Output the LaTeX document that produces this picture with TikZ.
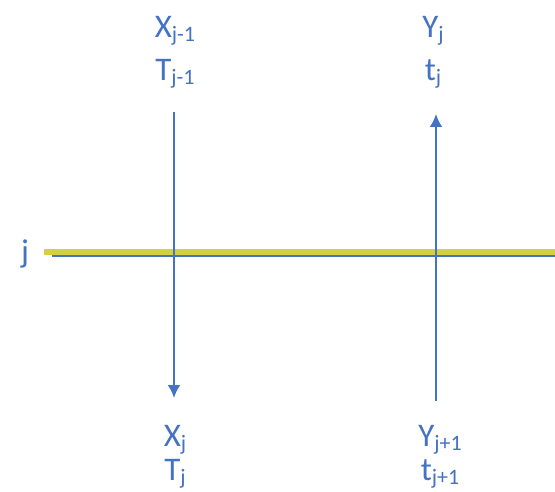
\documentclass[tikz,border=0pt]{standalone}
\usepackage{fontspec}
\usetikzlibrary{arrows.meta}
\setmainfont{Carlito}
\definecolor{oblue}{HTML}{4472C4}
\definecolor{oyellow}{HTML}{D4D040}
\newcommand{\sublbl}[2]{#1\raisebox{-4pt}{\fontsize{22}{24}\selectfont #2}}
\begin{document}
\begin{tikzpicture}[x=1pt,y=-1pt,
  lbl/.style={text=oblue,font=\fontsize{33}{35}\selectfont,inner sep=0pt,anchor=base},
  flow/.style={draw=oblue,line width=2.4pt,-{Latex[length=13pt,width=13pt]}}]
\useasboundingbox (0,0) rectangle (555,492);
% labels
\node[lbl] (xtop) at (175,38) {\sublbl{X}{j-1}};
\node[lbl] (ttop) at (175,81) {\sublbl{T}{j-1}};
\node[lbl] (ytop) at (433,38) {\sublbl{Y}{j}};
\node[lbl] (ttopr) at (433,81) {\sublbl{t}{j}};
\node[lbl] (xbot) at (175,446) {\sublbl{X}{j}};
\node[lbl] (tbot) at (175,480) {\sublbl{T}{j}};
\node[lbl] (ybot) at (440,446) {\sublbl{Y}{j+1}};
\node[lbl] (tbotr) at (440,480) {\sublbl{t}{j+1}};
\node[lbl] (jl) at (25,262) {j};
% coordinates
\coordinate (a1) at (174,112);
\coordinate (a2) at (174,398);
\coordinate (b1) at (436,401);
\coordinate (b2) at (436,114);
\coordinate (l1) at (44,252.3);
\coordinate (l2) at (555,252.3);
\coordinate (m1) at (52,256.3);
\coordinate (m2) at (555,256.3);
% lines
\draw[draw=oblue,line width=2pt] (m1) -- (m2);
\draw[draw=oyellow,line width=6pt] (l1) -- (l2);
\draw[flow] (a1) -- (a2);
\draw[flow] (b1) -- (b2);
\end{tikzpicture}
\end{document}
